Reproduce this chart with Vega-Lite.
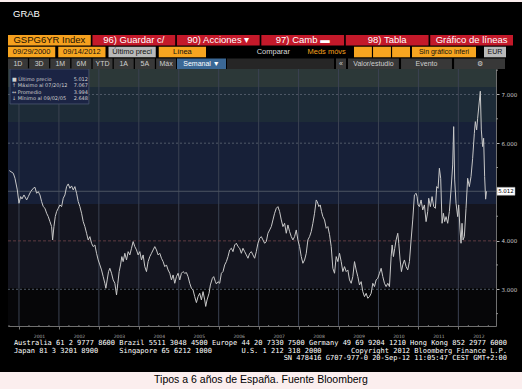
{
"$schema": "https://vega.github.io/schema/vega-lite/v6.json",
"width": 522, "height": 370,
"autosize": {"type": "none"},
"padding": {"left": 0, "top": 2, "right": 0, "bottom": 17},
"background": "#fbeeee",
"title": {"text": "Tipos a 6 años de España. Fuente Bloomberg", "orient": "bottom", "frame": "group", "anchor": "middle", "offset": 3, "fontSize": 10.5, "font": "Liberation Sans", "fontWeight": "normal", "color": "#000000", "baseline": "top"},
"config": {"view": {"fill": "#000000", "stroke": null}},
"resolve": {"scale": {"x": "independent", "y": "independent", "fill": "independent", "color": "independent"}},
"layer": [
{
 "layer": [
  {"data": {"values": [{"b":"b1","lo":7.154,"hi":7.523},{"b":"b2","lo":6.435,"hi":7.154},{"b":"b3","lo":4.752,"hi":6.435},{"b":"b4","lo":3.027,"hi":4.752},{"b":"b5","lo":2.246,"hi":3.027}]},
   "mark": {"type": "rect"},
   "encoding": {
    "x": {"datum": 2000.725, "type": "quantitative", "title": null, "scale": {"domain": [2000.725, 2012.9425], "range": [8, 496], "nice": false, "zero": false}},
    "x2": {"datum": 2012.9425},
    "y": {"field": "lo", "type": "quantitative", "title": null, "scale": {"domain": [2.246, 7.523], "range": [324, 67], "nice": false, "zero": false}},
    "y2": {"field": "hi"},
    "fill": {"field": "b", "type": "nominal", "legend": null, "scale": {"domain": ["b1","b2","b3","b4","b5"], "range": ["#2c3838","#1d2b37","#172038","#14151f","#060608"]}}
   }},
  {"data": {"values": [{"t":2001},{"t":2002},{"t":2003},{"t":2004},{"t":2005},{"t":2006},{"t":2007},{"t":2008},{"t":2009},{"t":2010},{"t":2011},{"t":2012}]},
   "mark": {"type": "rule", "stroke": "#3b4252", "strokeWidth": 1},
   "encoding": {
    "x": {"field": "t", "type": "quantitative", "title": null, "scale": {"domain": [2000.725, 2012.9425], "range": [8, 496], "nice": false, "zero": false}},
    "y": {"datum": 2.246, "type": "quantitative", "title": null, "scale": {"domain": [2.246, 7.523], "range": [324, 67], "nice": false, "zero": false}},
    "y2": {"datum": 7.523}
   }},
  {"data": {"values": [{"t":2000.75},{"t":2001.25},{"t":2001.5},{"t":2001.75},{"t":2002.25},{"t":2002.5},{"t":2002.75},{"t":2003.25},{"t":2003.5},{"t":2003.75},{"t":2004.25},{"t":2004.5},{"t":2004.75},{"t":2005.25},{"t":2005.5},{"t":2005.75},{"t":2006.25},{"t":2006.5},{"t":2006.75},{"t":2007.25},{"t":2007.5},{"t":2007.75},{"t":2008.25},{"t":2008.5},{"t":2008.75},{"t":2009.25},{"t":2009.5},{"t":2009.75},{"t":2010.25},{"t":2010.5},{"t":2010.75},{"t":2011.25},{"t":2011.5},{"t":2011.75},{"t":2012.25},{"t":2012.5},{"t":2012.75}]},
   "mark": {"type": "rule", "stroke": "#707070", "strokeWidth": 1, "yOffset": -1, "y2Offset": 1},
   "encoding": {
    "x": {"field": "t", "type": "quantitative", "title": null, "scale": {"domain": [2000.725, 2012.9425], "range": [8, 496], "nice": false, "zero": false}},
    "y": {"datum": 2.246, "type": "quantitative", "title": null, "scale": {"domain": [2.246, 7.523], "range": [324, 67], "nice": false, "zero": false}},
    "y2": {"datum": 2.246}
   }},
  {"data": {"values": [{"v":2.5},{"v":3.5},{"v":4.5},{"v":5.5},{"v":6.5},{"v":7.5}]},
   "mark": {"type": "rule", "stroke": "#909090", "strokeWidth": 1, "x2Offset": 2},
   "encoding": {
    "x": {"datum": 2012.9425, "type": "quantitative", "title": null, "scale": {"domain": [2000.725, 2012.9425], "range": [8, 496], "nice": false, "zero": false}},
    "x2": {"datum": 2012.9425},
    "y": {"field": "v", "type": "quantitative", "title": null, "scale": {"domain": [2.246, 7.523], "range": [324, 67], "nice": false, "zero": false}}
   }},
  {"data": {"values": [{"v":7},{"v":6},{"v":3}]},
   "mark": {"type": "rule", "stroke": "#505a68", "strokeWidth": 1, "strokeDash": [2, 2]},
   "encoding": {
    "x": {"datum": 2000.725, "type": "quantitative", "title": null, "scale": {"domain": [2000.725, 2012.9425], "range": [8, 496], "nice": false, "zero": false}},
    "x2": {"datum": 2012.9425},
    "y": {"field": "v", "type": "quantitative", "title": null, "scale": {"domain": [2.246, 7.523], "range": [324, 67], "nice": false, "zero": false}}
   }},
  {"data": {"values": [{"v":5.012}]},
   "mark": {"type": "rule", "stroke": "#4a5462", "strokeWidth": 1},
   "encoding": {
    "x": {"datum": 2000.725, "type": "quantitative", "title": null, "scale": {"domain": [2000.725, 2012.9425], "range": [8, 496], "nice": false, "zero": false}},
    "x2": {"datum": 2012.9425},
    "y": {"field": "v", "type": "quantitative", "title": null, "scale": {"domain": [2.246, 7.523], "range": [324, 67], "nice": false, "zero": false}}
   }},
  {"data": {"values": [{"v":3.994}]},
   "mark": {"type": "rule", "stroke": "#5e3a40", "strokeWidth": 1, "strokeDash": [3, 2]},
   "encoding": {
    "x": {"datum": 2000.725, "type": "quantitative", "title": null, "scale": {"domain": [2000.725, 2012.9425], "range": [8, 496], "nice": false, "zero": false}},
    "x2": {"datum": 2012.9425},
    "y": {"field": "v", "type": "quantitative", "title": null, "scale": {"domain": [2.246, 7.523], "range": [324, 67], "nice": false, "zero": false}}
   }},
  {"data": {"values": [{"k":"box"}]},
   "mark": {"type": "rect", "fill": "#1b2444", "stroke": "#4a5570", "strokeWidth": 0.8},
   "encoding": {
    "x": {"datum": 2000.775, "type": "quantitative", "title": null, "scale": {"domain": [2000.725, 2012.9425], "range": [8, 496], "nice": false, "zero": false}},
    "x2": {"datum": 2002.75},
    "y": {"datum": 6.805, "type": "quantitative", "title": null, "scale": {"domain": [2.246, 7.523], "range": [324, 67], "nice": false, "zero": false}},
    "y2": {"datum": 7.523}
   }},
  {"data": {"values": [
{"t":2000.758,"v":5.437},{"t":2000.858,"v":5.382},{"t":2000.900,"v":5.279},{"t":2000.958,"v":5.040},{"t":2001.000,"v":4.766},{"t":2001.042,"v":4.903},{"t":2001.075,"v":4.855},{"t":2001.125,"v":4.937},{"t":2001.192,"v":4.834},{"t":2001.233,"v":4.903},{"t":2001.292,"v":5.005},{"t":2001.358,"v":5.074},{"t":2001.400,"v":5.094},{"t":2001.442,"v":4.971},{"t":2001.483,"v":5.005},{"t":2001.525,"v":4.937},{"t":2001.567,"v":4.800},{"t":2001.608,"v":4.697},{"t":2001.650,"v":4.663},{"t":2001.692,"v":4.561},{"t":2001.733,"v":4.492},{"t":2001.775,"v":4.389},{"t":2001.817,"v":4.287},{"t":2001.842,"v":4.013},{"t":2001.875,"v":4.287},{"t":2001.908,"v":4.492},{"t":2001.942,"v":4.595},{"t":2001.983,"v":4.663},
{"t":2002.025,"v":4.732},{"t":2002.067,"v":4.697},{"t":2002.108,"v":4.869},{"t":2002.150,"v":4.937},{"t":2002.192,"v":5.108},{"t":2002.233,"v":5.163},{"t":2002.275,"v":5.074},{"t":2002.317,"v":5.122},{"t":2002.358,"v":5.040},{"t":2002.400,"v":5.108},{"t":2002.442,"v":4.971},{"t":2002.483,"v":4.800},{"t":2002.525,"v":4.697},{"t":2002.567,"v":4.561},{"t":2002.608,"v":4.389},{"t":2002.650,"v":4.287},{"t":2002.692,"v":4.150},{"t":2002.733,"v":4.013},{"t":2002.775,"v":4.081},{"t":2002.817,"v":3.945},{"t":2002.858,"v":3.876},{"t":2002.900,"v":3.910},{"t":2002.942,"v":3.739},{"t":2002.983,"v":3.602},
{"t":2003.025,"v":3.500},{"t":2003.067,"v":3.397},{"t":2003.108,"v":3.260},{"t":2003.150,"v":3.123},{"t":2003.175,"v":3.021},{"t":2003.208,"v":3.192},{"t":2003.242,"v":3.363},{"t":2003.275,"v":3.431},{"t":2003.317,"v":3.329},{"t":2003.358,"v":3.192},{"t":2003.400,"v":3.123},{"t":2003.442,"v":2.884},{"t":2003.475,"v":3.123},{"t":2003.508,"v":3.363},{"t":2003.542,"v":3.500},{"t":2003.575,"v":3.671},{"t":2003.608,"v":3.568},{"t":2003.650,"v":3.739},{"t":2003.692,"v":3.602},{"t":2003.733,"v":3.773},{"t":2003.775,"v":3.705},{"t":2003.817,"v":3.842},{"t":2003.858,"v":3.979},{"t":2003.900,"v":3.876},{"t":2003.942,"v":3.808},{"t":2003.983,"v":3.705},
{"t":2004.025,"v":3.773},{"t":2004.067,"v":3.602},{"t":2004.108,"v":3.705},{"t":2004.150,"v":3.465},{"t":2004.192,"v":3.363},{"t":2004.233,"v":3.568},{"t":2004.275,"v":3.671},{"t":2004.317,"v":3.739},{"t":2004.358,"v":3.808},{"t":2004.400,"v":3.876},{"t":2004.442,"v":3.808},{"t":2004.483,"v":3.705},{"t":2004.525,"v":3.739},{"t":2004.567,"v":3.637},{"t":2004.608,"v":3.568},{"t":2004.650,"v":3.465},{"t":2004.692,"v":3.500},{"t":2004.733,"v":3.397},{"t":2004.775,"v":3.329},{"t":2004.817,"v":3.192},{"t":2004.858,"v":3.294},{"t":2004.900,"v":3.123},{"t":2004.942,"v":3.260},{"t":2004.983,"v":3.329},
{"t":2005.025,"v":3.192},{"t":2005.067,"v":3.329},{"t":2005.108,"v":3.363},{"t":2005.150,"v":3.329},{"t":2005.192,"v":3.342},{"t":2005.233,"v":3.260},{"t":2005.275,"v":3.123},{"t":2005.317,"v":3.021},{"t":2005.358,"v":2.986},{"t":2005.400,"v":2.849},{"t":2005.442,"v":2.726},{"t":2005.483,"v":2.849},{"t":2005.525,"v":2.918},{"t":2005.567,"v":2.781},{"t":2005.608,"v":2.952},{"t":2005.650,"v":2.781},{"t":2005.675,"v":2.648},{"t":2005.708,"v":2.781},{"t":2005.758,"v":2.918},{"t":2005.792,"v":3.089},{"t":2005.842,"v":3.226},{"t":2005.875,"v":3.260},{"t":2005.917,"v":3.157},{"t":2005.942,"v":3.110},{"t":2005.983,"v":3.157},
{"t":2006.025,"v":3.123},{"t":2006.067,"v":3.329},{"t":2006.108,"v":3.363},{"t":2006.150,"v":3.500},{"t":2006.192,"v":3.568},{"t":2006.233,"v":3.671},{"t":2006.275,"v":3.808},{"t":2006.317,"v":3.842},{"t":2006.358,"v":3.773},{"t":2006.400,"v":3.910},{"t":2006.442,"v":3.945},{"t":2006.483,"v":3.876},{"t":2006.525,"v":3.842},{"t":2006.567,"v":3.739},{"t":2006.608,"v":3.842},{"t":2006.650,"v":3.773},{"t":2006.692,"v":3.705},{"t":2006.733,"v":3.637},{"t":2006.775,"v":3.739},{"t":2006.817,"v":3.773},{"t":2006.858,"v":3.705},{"t":2006.900,"v":3.637},{"t":2006.942,"v":3.773},{"t":2006.983,"v":3.945},
{"t":2007.025,"v":4.047},{"t":2007.067,"v":4.081},{"t":2007.108,"v":4.013},{"t":2007.150,"v":3.945},{"t":2007.192,"v":3.979},{"t":2007.233,"v":4.150},{"t":2007.275,"v":4.218},{"t":2007.317,"v":4.287},{"t":2007.358,"v":4.424},{"t":2007.400,"v":4.561},{"t":2007.442,"v":4.663},{"t":2007.483,"v":4.697},{"t":2007.525,"v":4.595},{"t":2007.567,"v":4.424},{"t":2007.608,"v":4.287},{"t":2007.650,"v":4.355},{"t":2007.692,"v":4.150},{"t":2007.733,"v":4.321},{"t":2007.775,"v":4.184},{"t":2007.817,"v":4.081},{"t":2007.858,"v":4.013},{"t":2007.900,"v":4.081},{"t":2007.942,"v":4.218},{"t":2007.983,"v":4.013},
{"t":2008.025,"v":3.876},{"t":2008.067,"v":3.671},{"t":2008.108,"v":3.534},{"t":2008.150,"v":3.602},{"t":2008.192,"v":3.739},{"t":2008.233,"v":4.013},{"t":2008.275,"v":4.081},{"t":2008.317,"v":4.184},{"t":2008.358,"v":4.355},{"t":2008.400,"v":4.561},{"t":2008.442,"v":4.834},{"t":2008.467,"v":4.800},{"t":2008.508,"v":4.697},{"t":2008.542,"v":4.732},{"t":2008.575,"v":4.595},{"t":2008.608,"v":4.492},{"t":2008.650,"v":4.424},{"t":2008.692,"v":4.253},{"t":2008.733,"v":4.287},{"t":2008.775,"v":4.120},{"t":2008.817,"v":3.876},{"t":2008.858,"v":3.431},{"t":2008.900,"v":3.329},{"t":2008.942,"v":3.671},{"t":2008.983,"v":3.568},
{"t":2009.025,"v":3.739},{"t":2009.067,"v":3.568},{"t":2009.108,"v":3.363},{"t":2009.150,"v":3.465},{"t":2009.192,"v":3.363},{"t":2009.233,"v":3.397},{"t":2009.275,"v":3.192},{"t":2009.317,"v":3.123},{"t":2009.358,"v":3.260},{"t":2009.400,"v":3.568},{"t":2009.442,"v":3.397},{"t":2009.483,"v":3.260},{"t":2009.525,"v":3.089},{"t":2009.567,"v":3.157},{"t":2009.608,"v":2.952},{"t":2009.650,"v":2.849},{"t":2009.692,"v":2.918},{"t":2009.733,"v":2.815},{"t":2009.775,"v":2.849},{"t":2009.817,"v":2.918},{"t":2009.858,"v":3.123},{"t":2009.900,"v":3.055},{"t":2009.942,"v":3.192},{"t":2009.983,"v":3.226},
{"t":2010.025,"v":3.329},{"t":2010.067,"v":3.431},{"t":2010.108,"v":3.260},{"t":2010.150,"v":3.123},{"t":2010.192,"v":3.055},{"t":2010.233,"v":3.123},{"t":2010.275,"v":3.055},{"t":2010.317,"v":3.671},{"t":2010.342,"v":3.910},{"t":2010.375,"v":3.671},{"t":2010.408,"v":3.842},{"t":2010.442,"v":4.013},{"t":2010.483,"v":4.150},{"t":2010.508,"v":3.945},{"t":2010.542,"v":3.602},{"t":2010.575,"v":3.363},{"t":2010.608,"v":3.500},{"t":2010.650,"v":3.602},{"t":2010.692,"v":3.465},{"t":2010.733,"v":3.397},{"t":2010.775,"v":3.568},{"t":2010.817,"v":4.013},{"t":2010.858,"v":4.424},{"t":2010.900,"v":4.937},{"t":2010.942,"v":4.971},{"t":2010.967,"v":4.903},{"t":2010.992,"v":4.732},
{"t":2011.025,"v":4.697},{"t":2011.067,"v":4.834},{"t":2011.108,"v":4.629},{"t":2011.150,"v":4.732},{"t":2011.192,"v":4.389},{"t":2011.233,"v":4.595},{"t":2011.258,"v":4.869},{"t":2011.300,"v":4.697},{"t":2011.342,"v":4.903},{"t":2011.383,"v":4.697},{"t":2011.425,"v":4.663},{"t":2011.458,"v":5.108},{"t":2011.492,"v":5.074},{"t":2011.525,"v":5.485},{"t":2011.558,"v":5.279},{"t":2011.592,"v":4.355},{"t":2011.625,"v":4.561},{"t":2011.658,"v":4.389},{"t":2011.692,"v":4.492},{"t":2011.733,"v":4.355},{"t":2011.775,"v":4.595},{"t":2011.817,"v":5.040},{"t":2011.858,"v":5.553},{"t":2011.883,"v":6.340},{"t":2011.908,"v":5.245},{"t":2011.942,"v":4.766},{"t":2011.983,"v":4.492},
{"t":2012.008,"v":4.732},{"t":2012.042,"v":4.218},{"t":2012.067,"v":3.945},{"t":2012.092,"v":4.355},{"t":2012.117,"v":4.013},{"t":2012.150,"v":4.081},{"t":2012.192,"v":4.663},{"t":2012.233,"v":5.279},{"t":2012.275,"v":5.108},{"t":2012.317,"v":5.313},{"t":2012.358,"v":5.690},{"t":2012.400,"v":6.203},{"t":2012.425,"v":6.443},{"t":2012.458,"v":6.272},{"t":2012.483,"v":6.511},{"t":2012.550,"v":7.067},{"t":2012.575,"v":6.272},{"t":2012.608,"v":5.930},{"t":2012.633,"v":6.101},{"t":2012.658,"v":5.313},{"t":2012.683,"v":4.850},{"t":2012.704,"v":5.012}
  ]},
   "mark": {"type": "line", "stroke": "#c8c8c8", "strokeWidth": 1, "clip": true},
   "encoding": {
    "x": {"field": "t", "type": "quantitative", "title": null, "scale": {"domain": [2000.725, 2012.9425], "range": [8, 496], "nice": false, "zero": false},
      "axis": {"orient": "bottom", "offset": -46, "values": [2001,2002,2003,2004,2005,2006,2007,2008,2009,2010,2011,2012], "format": "d", "labelOffset": 20, "tickSize": 3, "labelPadding": 4, "labelFontSize": 4.5, "labelFont": "DejaVu Sans", "labelColor": "#a8a8a8", "domainColor": "#707070", "tickColor": "#707070", "grid": false, "labelFlush": false, "labelOverlap": false, "title": null}},
    "y": {"field": "v", "type": "quantitative", "title": null, "scale": {"domain": [2.246, 7.523], "range": [324, 67], "nice": false, "zero": false},
      "axis": {"orient": "right", "offset": -26, "values": [3,4,6,7], "format": ".3f", "tickSize": 3, "labelPadding": 2, "labelFontSize": 5.5, "labelFont": "DejaVu Sans", "labelColor": "#c8c8c8", "domainColor": "#707070", "tickColor": "#b0b0b0", "grid": false, "labelOverlap": false, "title": null}}
   }},
  {"data": {"values": [{"v":5.012}]},
   "mark": {"type": "rect", "fill": "#ffffff", "stroke": "#999999", "strokeWidth": 0.5, "xOffset": 1, "x2Offset": 19, "yOffset": 4, "y2Offset": -4},
   "encoding": {
    "x": {"datum": 2012.9425, "type": "quantitative", "title": null, "scale": {"domain": [2000.725, 2012.9425], "range": [8, 496], "nice": false, "zero": false}},
    "x2": {"datum": 2012.9425},
    "y": {"field": "v", "type": "quantitative", "title": null, "scale": {"domain": [2.246, 7.523], "range": [324, 67], "nice": false, "zero": false}},
    "y2": {"field": "v"}
   }},
  {"data": {"values": [{"v":5.012}]},
   "mark": {"type": "text", "fontSize": 5.5, "font": "DejaVu Sans", "color": "#000000", "align": "center", "dx": 10},
   "encoding": {
    "x": {"datum": 2012.9425, "type": "quantitative", "title": null, "scale": {"domain": [2000.725, 2012.9425], "range": [8, 496], "nice": false, "zero": false}},
    "y": {"field": "v", "type": "quantitative", "title": null, "scale": {"domain": [2.246, 7.523], "range": [324, 67], "nice": false, "zero": false}},
    "text": {"field": "v", "type": "quantitative", "format": ".3f"}
   }}
 ]
},
{
 "data": {"values": [{"id":"g","label":"GRAB","row":"r0"}]},
 "mark": {"type": "text", "align": "left", "font": "Liberation Sans", "fontSize": 9.5, "color": "#ffffff"},
 "encoding": {
  "x": {"field": "id", "type": "nominal", "bandPosition": 0, "axis": null, "title": null, "scale": {"type": "band", "domain": ["g"], "range": [13, 60]}},
  "y": {"field": "row", "type": "nominal", "axis": null, "title": null, "scale": {"type": "band", "domain": ["r0"], "range": [6, 18]}},
  "text": {"field": "label"}
 }
},
{
 "data": {"values": [{"id":"a","label":"GSPG6YR Index","kind":"ticker","row":"r1"},{"id":"b","label":"96) Guardar c/","kind":"menu","row":"r1"},{"id":"c","label":"90) Acciones ▾","kind":"menu","row":"r1"},{"id":"d","label":"97) Camb ▬","kind":"menu","row":"r1"},{"id":"e","label":"98) Tabla","kind":"menu","row":"r1"},{"id":"f","label":"Gráfico de líneas","kind":"menu","row":"r1"}]},
 "encoding": {
  "x": {"field": "id", "type": "nominal", "sort": null, "axis": null, "title": null, "scale": {"type": "band", "range": [8, 513], "paddingInner": 0.02, "paddingOuter": 0}},
  "y": {"field": "row", "type": "nominal", "axis": null, "title": null, "scale": {"type": "band", "domain": ["r1","r2","r3"], "range": [33, 67], "paddingInner": 0.1, "paddingOuter": 0}}
 },
 "layer": [
  {"mark": {"type": "rect"}, "encoding": {"fill": {"field": "kind", "type": "nominal", "legend": null, "scale": {"domain": ["ticker","menu","field","gray","plain","plainO","btn","sel","dark"], "range": ["#f5a01e","#c4192a","#f7a520","#b9b9b9","#000000","#000000","#383838","#3b6895","#262626"]}}}},
  {"mark": {"type": "text", "font": "Liberation Sans", "fontSize": 9.5}, "encoding": {"text": {"field": "label"}, "color": {"field": "kind", "type": "nominal", "legend": null, "scale": {"domain": ["ticker","menu","field","gray","plain","plainO","btn","sel","dark"], "range": ["#1c1200","#ffffff","#111111","#111111","#dcdcdc","#f5a01e","#cfcfcf","#ffffff","#cccccc"]}}}}
 ]
},
{
 "data": {"values": [{"id":"a","label":"09/29/2000","kind":"field","row":"r2"},{"id":"b","label":"09/14/2012","kind":"field","row":"r2"},{"id":"c","label":"Último preci","kind":"gray","row":"r2"},{"id":"d","label":"Línea","kind":"field","row":"r2"}]},
 "encoding": {
  "x": {"field": "id", "type": "nominal", "sort": null, "axis": null, "title": null, "scale": {"type": "band", "range": [8, 206], "paddingInner": 0.06, "paddingOuter": 0}},
  "y": {"field": "row", "type": "nominal", "axis": null, "title": null, "scale": {"type": "band", "domain": ["r1","r2","r3"], "range": [33, 67], "paddingInner": 0.1, "paddingOuter": 0}}
 },
 "layer": [
  {"mark": {"type": "rect"}, "encoding": {"fill": {"field": "kind", "type": "nominal", "legend": null, "scale": {"domain": ["ticker","menu","field","gray","plain","plainO","btn","sel","dark"], "range": ["#f5a01e","#c4192a","#f7a520","#b9b9b9","#000000","#000000","#383838","#3b6895","#262626"]}}}},
  {"mark": {"type": "text", "font": "Liberation Sans", "fontSize": 7.5}, "encoding": {"text": {"field": "label"}, "color": {"field": "kind", "type": "nominal", "legend": null, "scale": {"domain": ["ticker","menu","field","gray","plain","plainO","btn","sel","dark"], "range": ["#1c1200","#ffffff","#111111","#111111","#dcdcdc","#f5a01e","#cfcfcf","#ffffff","#cccccc"]}}}}
 ]
},
{
 "data": {"values": [{"id":"a","label":"Comparar","kind":"plain","row":"r2"},{"id":"b","label":"Meds móvs","kind":"plainO","row":"r2"}]},
 "encoding": {
  "x": {"field": "id", "type": "nominal", "sort": null, "axis": null, "title": null, "scale": {"type": "band", "range": [248, 352], "paddingInner": 0.05, "paddingOuter": 0}},
  "y": {"field": "row", "type": "nominal", "axis": null, "title": null, "scale": {"type": "band", "domain": ["r1","r2","r3"], "range": [33, 67], "paddingInner": 0.1, "paddingOuter": 0}}
 },
 "layer": [
  {"mark": {"type": "text", "font": "Liberation Sans", "fontSize": 7.5}, "encoding": {"text": {"field": "label"}, "color": {"field": "kind", "type": "nominal", "legend": null, "scale": {"domain": ["ticker","menu","field","gray","plain","plainO","btn","sel","dark"], "range": ["#1c1200","#ffffff","#111111","#111111","#dcdcdc","#f5a01e","#cfcfcf","#ffffff","#cccccc"]}}}}
 ]
},
{
 "data": {"values": [{"id":"a","kind":"field","row":"r2"},{"id":"b","kind":"field","row":"r2"},{"id":"c","kind":"field","row":"r2"}]},
 "mark": {"type": "rect"},
 "encoding": {
  "x": {"field": "id", "type": "nominal", "sort": null, "axis": null, "title": null, "scale": {"type": "band", "range": [354, 410], "paddingInner": 0.06, "paddingOuter": 0}},
  "y": {"field": "row", "type": "nominal", "axis": null, "title": null, "scale": {"type": "band", "domain": ["r1","r2","r3"], "range": [33, 67], "paddingInner": 0.1, "paddingOuter": 0}},
  "fill": {"field": "kind", "type": "nominal", "legend": null, "scale": {"domain": ["ticker","menu","field","gray","plain","plainO","btn","sel","dark"], "range": ["#f5a01e","#c4192a","#f7a520","#b9b9b9","#000000","#000000","#383838","#3b6895","#262626"]}}
 }
},
{
 "data": {"values": [{"id":"a","label":"Sin gráfico inferi","kind":"field","row":"r2"}]},
 "encoding": {
  "x": {"field": "id", "type": "nominal", "sort": null, "axis": null, "title": null, "scale": {"type": "band", "range": [412, 476], "paddingInner": 0, "paddingOuter": 0}},
  "y": {"field": "row", "type": "nominal", "axis": null, "title": null, "scale": {"type": "band", "domain": ["r1","r2","r3"], "range": [33, 67], "paddingInner": 0.1, "paddingOuter": 0}}
 },
 "layer": [
  {"mark": {"type": "rect"}, "encoding": {"fill": {"field": "kind", "type": "nominal", "legend": null, "scale": {"domain": ["ticker","menu","field","gray","plain","plainO","btn","sel","dark"], "range": ["#f5a01e","#c4192a","#f7a520","#b9b9b9","#000000","#000000","#383838","#3b6895","#262626"]}}}},
  {"mark": {"type": "text", "font": "Liberation Sans", "fontSize": 7}, "encoding": {"text": {"field": "label"}, "color": {"field": "kind", "type": "nominal", "legend": null, "scale": {"domain": ["ticker","menu","field","gray","plain","plainO","btn","sel","dark"], "range": ["#1c1200","#ffffff","#111111","#111111","#dcdcdc","#f5a01e","#cfcfcf","#ffffff","#cccccc"]}}}}
 ]
},
{
 "data": {"values": [{"id":"a","label":"EUR","kind":"gray","row":"r2"}]},
 "encoding": {
  "x": {"field": "id", "type": "nominal", "sort": null, "axis": null, "title": null, "scale": {"type": "band", "range": [484, 506], "paddingInner": 0, "paddingOuter": 0}},
  "y": {"field": "row", "type": "nominal", "axis": null, "title": null, "scale": {"type": "band", "domain": ["r1","r2","r3"], "range": [33, 67], "paddingInner": 0.1, "paddingOuter": 0}}
 },
 "layer": [
  {"mark": {"type": "rect"}, "encoding": {"fill": {"field": "kind", "type": "nominal", "legend": null, "scale": {"domain": ["ticker","menu","field","gray","plain","plainO","btn","sel","dark"], "range": ["#f5a01e","#c4192a","#f7a520","#b9b9b9","#000000","#000000","#383838","#3b6895","#262626"]}}}},
  {"mark": {"type": "text", "font": "Liberation Sans", "fontSize": 7}, "encoding": {"text": {"field": "label"}, "color": {"field": "kind", "type": "nominal", "legend": null, "scale": {"domain": ["ticker","menu","field","gray","plain","plainO","btn","sel","dark"], "range": ["#1c1200","#ffffff","#111111","#111111","#dcdcdc","#f5a01e","#cfcfcf","#ffffff","#cccccc"]}}}}
 ]
},
{
 "data": {"values": [{"id":"a","label":"1D","kind":"btn","row":"r3"},{"id":"b","label":"3D","kind":"btn","row":"r3"},{"id":"c","label":"1M","kind":"btn","row":"r3"},{"id":"d","label":"6M","kind":"btn","row":"r3"},{"id":"e","label":"YTD","kind":"btn","row":"r3"},{"id":"f","label":"1A","kind":"btn","row":"r3"},{"id":"g","label":"5A","kind":"btn","row":"r3"},{"id":"h","label":"Máx","kind":"btn","row":"r3"}]},
 "encoding": {
  "x": {"field": "id", "type": "nominal", "sort": null, "axis": null, "title": null, "scale": {"type": "band", "range": [8, 176], "paddingInner": 0.06, "paddingOuter": 0}},
  "y": {"field": "row", "type": "nominal", "axis": null, "title": null, "scale": {"type": "band", "domain": ["r1","r2","r3"], "range": [33, 67], "paddingInner": 0.1, "paddingOuter": 0}}
 },
 "layer": [
  {"mark": {"type": "rect"}, "encoding": {"fill": {"field": "kind", "type": "nominal", "legend": null, "scale": {"domain": ["ticker","menu","field","gray","plain","plainO","btn","sel","dark"], "range": ["#f5a01e","#c4192a","#f7a520","#b9b9b9","#000000","#000000","#383838","#3b6895","#262626"]}}}},
  {"mark": {"type": "text", "font": "Liberation Sans", "fontSize": 7}, "encoding": {"text": {"field": "label"}, "color": {"field": "kind", "type": "nominal", "legend": null, "scale": {"domain": ["ticker","menu","field","gray","plain","plainO","btn","sel","dark"], "range": ["#1c1200","#ffffff","#111111","#111111","#dcdcdc","#f5a01e","#cfcfcf","#ffffff","#cccccc"]}}}}
 ]
},
{
 "data": {"values": [{"id":"a","label":"Semanal ▼","kind":"sel","row":"r3"}]},
 "encoding": {
  "x": {"field": "id", "type": "nominal", "sort": null, "axis": null, "title": null, "scale": {"type": "band", "range": [177, 226], "paddingInner": 0, "paddingOuter": 0}},
  "y": {"field": "row", "type": "nominal", "axis": null, "title": null, "scale": {"type": "band", "domain": ["r1","r2","r3"], "range": [33, 67], "paddingInner": 0.1, "paddingOuter": 0}}
 },
 "layer": [
  {"mark": {"type": "rect"}, "encoding": {"fill": {"field": "kind", "type": "nominal", "legend": null, "scale": {"domain": ["ticker","menu","field","gray","plain","plainO","btn","sel","dark"], "range": ["#f5a01e","#c4192a","#f7a520","#b9b9b9","#000000","#000000","#383838","#3b6895","#262626"]}}}},
  {"mark": {"type": "text", "font": "Liberation Sans", "fontSize": 7}, "encoding": {"text": {"field": "label"}, "color": {"field": "kind", "type": "nominal", "legend": null, "scale": {"domain": ["ticker","menu","field","gray","plain","plainO","btn","sel","dark"], "range": ["#1c1200","#ffffff","#111111","#111111","#dcdcdc","#f5a01e","#cfcfcf","#ffffff","#cccccc"]}}}}
 ]
},
{
 "data": {"values": [{"id":"a","kind":"dark","row":"r3"}]},
 "mark": {"type": "rect"},
 "encoding": {
  "x": {"field": "id", "type": "nominal", "sort": null, "axis": null, "title": null, "scale": {"type": "band", "range": [227, 334], "paddingInner": 0, "paddingOuter": 0}},
  "y": {"field": "row", "type": "nominal", "axis": null, "title": null, "scale": {"type": "band", "domain": ["r1","r2","r3"], "range": [33, 67], "paddingInner": 0.1, "paddingOuter": 0}},
  "fill": {"field": "kind", "type": "nominal", "legend": null, "scale": {"domain": ["ticker","menu","field","gray","plain","plainO","btn","sel","dark"], "range": ["#f5a01e","#c4192a","#f7a520","#b9b9b9","#000000","#000000","#383838","#3b6895","#262626"]}}
 }
},
{
 "data": {"values": [{"id":"a","label":"«","kind":"btn","row":"r3"}]},
 "encoding": {
  "x": {"field": "id", "type": "nominal", "sort": null, "axis": null, "title": null, "scale": {"type": "band", "range": [336, 346], "paddingInner": 0, "paddingOuter": 0}},
  "y": {"field": "row", "type": "nominal", "axis": null, "title": null, "scale": {"type": "band", "domain": ["r1","r2","r3"], "range": [33, 67], "paddingInner": 0.1, "paddingOuter": 0}}
 },
 "layer": [
  {"mark": {"type": "rect"}, "encoding": {"fill": {"field": "kind", "type": "nominal", "legend": null, "scale": {"domain": ["ticker","menu","field","gray","plain","plainO","btn","sel","dark"], "range": ["#f5a01e","#c4192a","#f7a520","#b9b9b9","#000000","#000000","#383838","#3b6895","#262626"]}}}},
  {"mark": {"type": "text", "font": "Liberation Sans", "fontSize": 7}, "encoding": {"text": {"field": "label"}, "color": {"field": "kind", "type": "nominal", "legend": null, "scale": {"domain": ["ticker","menu","field","gray","plain","plainO","btn","sel","dark"], "range": ["#1c1200","#ffffff","#111111","#111111","#dcdcdc","#f5a01e","#cfcfcf","#ffffff","#cccccc"]}}}}
 ]
},
{
 "data": {"values": [{"id":"a","label":"Valor/estudio","kind":"btn","row":"r3"},{"id":"b","label":"Evento","kind":"btn","row":"r3"},{"id":"c","label":"⚙","kind":"btn","row":"r3"}]},
 "encoding": {
  "x": {"field": "id", "type": "nominal", "sort": null, "axis": null, "title": null, "scale": {"type": "band", "range": [348, 505], "paddingInner": 0.04, "paddingOuter": 0}},
  "y": {"field": "row", "type": "nominal", "axis": null, "title": null, "scale": {"type": "band", "domain": ["r1","r2","r3"], "range": [33, 67], "paddingInner": 0.1, "paddingOuter": 0}}
 },
 "layer": [
  {"mark": {"type": "rect"}, "encoding": {"fill": {"field": "kind", "type": "nominal", "legend": null, "scale": {"domain": ["ticker","menu","field","gray","plain","plainO","btn","sel","dark"], "range": ["#f5a01e","#c4192a","#f7a520","#b9b9b9","#000000","#000000","#383838","#3b6895","#262626"]}}}},
  {"mark": {"type": "text", "font": "Liberation Sans", "fontSize": 7}, "encoding": {"text": {"field": "label"}, "color": {"field": "kind", "type": "nominal", "legend": null, "scale": {"domain": ["ticker","menu","field","gray","plain","plainO","btn","sel","dark"], "range": ["#1c1200","#ffffff","#111111","#111111","#dcdcdc","#f5a01e","#cfcfcf","#ffffff","#cccccc"]}}}}
 ]
},
{
 "data": {"values": [{"r":"1","label":"■ Último precio","value":"5.012"},{"r":"2","label":"↑ Máximo al 07/20/12","value":"7.067"},{"r":"3","label":"↔ Promedio","value":"3.994"},{"r":"4","label":"↓ Mínimo al 09/02/05","value":"2.648"}]},
 "encoding": {
  "y": {"field": "r", "type": "nominal", "axis": null, "title": null, "scale": {"type": "band", "domain": ["1","2","3","4"], "range": [74, 99], "paddingInner": 0, "paddingOuter": 0}}
 },
 "layer": [
  {"mark": {"type": "text", "align": "left", "font": "DejaVu Sans", "fontSize": 5, "color": "#d0d0d0"},
   "encoding": {"x": {"datum": "c", "type": "nominal", "bandPosition": 0, "axis": null, "title": null, "scale": {"type": "band", "domain": ["c"], "range": [12, 88]}}, "text": {"field": "label"}}},
  {"mark": {"type": "text", "align": "right", "font": "DejaVu Sans", "fontSize": 5, "color": "#d0d0d0"},
   "encoding": {"x": {"datum": "c", "type": "nominal", "bandPosition": 1, "axis": null, "title": null, "scale": {"type": "band", "domain": ["c"], "range": [12, 88]}}, "text": {"field": "value"}}}
 ]
},
{
 "data": {"values": [{"l":"l1","text":"Australia 61 2 9777 8600 Brazil 5511 3048 4500 Europe 44 20 7330 7500 Germany 49 69 9204 1210 Hong Kong 852 2977 6000"},{"l":"l2","text":"Japan 81 3 3201 8900\u00a0\u00a0\u00a0\u00a0\u00a0Singapore 65 6212 1000\u00a0\u00a0\u00a0\u00a0\u00a0\u00a0\u00a0U.S. 1 212 318 2000\u00a0\u00a0\u00a0\u00a0\u00a0\u00a0\u00a0Copyright 2012 Bloomberg Finance L.P."},{"l":"l3","text":"SN 478416 G707-977-0 20-Sep-12 11:05:47 CEST GMT+2:00"}]},
 "mark": {"type": "text", "align": "right", "font": "DejaVu Sans Mono", "fontSize": 7, "color": "#ffffff"},
 "encoding": {
  "x": {"datum": "f", "type": "nominal", "bandPosition": 1, "axis": null, "title": null, "scale": {"type": "band", "domain": ["f"], "range": [0, 507]}},
  "y": {"field": "l", "type": "nominal", "axis": null, "title": null, "scale": {"type": "band", "domain": ["l1","l2","l3"], "range": [337.5, 360], "paddingInner": 0, "paddingOuter": 0}},
  "text": {"field": "text"}
 }
}
]
}
